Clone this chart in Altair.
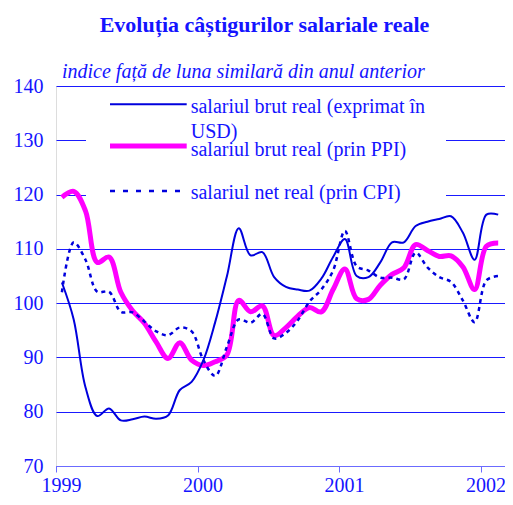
import altair as alt
import pandas as pd

# Monthly data, Jan 1999 .. Feb 2002
months = [f"{y}-{m:02d}" for y in (1999, 2000, 2001) for m in range(1, 13)] + ["2002-01", "2002-02"]

usd = [103.8, 97.0, 84.5, 79.2, 80.6, 78.4, 78.6, 79.1, 78.7, 79.3, 84.0, 85.5,
       89.5, 96.5, 105.0, 113.8, 108.8, 109.4, 104.8, 103.0, 102.5, 102.3, 104.5, 108.5,
       111.8, 105.0, 104.8, 107.5, 111.2, 111.2, 114.2, 115.0, 115.5, 116.0, 113.0, 108.0,
       116.3, 116.3]
ppi = [119.5, 120.6, 117.0, 107.5, 108.5, 102.0, 98.6, 96.3, 92.8, 89.8, 92.7, 89.5,
       88.5, 89.2, 90.5, 100.5, 98.4, 99.5, 94.0, 95.5, 97.6, 99.2, 98.4, 102.5,
       106.3, 100.8, 100.7, 103.3, 105.3, 106.5, 110.8, 109.7, 108.6, 108.7, 106.7, 102.5,
       110.5, 111.1]
cpi = [102.0, 111.2, 108.0, 102.1, 102.1, 98.4, 98.3, 96.6, 94.8, 94.1, 95.5, 94.8,
       89.5, 86.6, 92.0, 97.0, 96.4, 98.0, 93.5, 94.5, 96.8, 100.3, 102.5, 106.0,
       113.3, 106.8, 106.0, 104.7, 104.7, 104.4, 109.3, 106.6, 104.8, 103.9, 100.5, 96.5,
       104.2, 105.0]

series_names = ["salariul brut real (exprimat în USD)",
                "salariul brut real (prin PPI)",
                "salariul net real (prin CPI)"]
legend_lines = ["salariul brut real (exprimat în", "USD)",
                "salariul brut real (prin PPI)", "salariul net real (prin CPI)"]
title_text = "Evoluția câștigurilor salariale reale"
subtitle_text = "indice față de luna similară din anul anterior"
year_ticks = [1999, 2000, 2001, 2002]
y_ticks = [70, 80, 90, 100, 110, 120, 130, 140]

FONT = "Liberation Serif"
TXT = "#1414ff"
BLUE = "#0000dd"
MAG = "#ff00ff"

def yearfrac(m):
    y, mm = m.split("-")
    return int(y) + (int(mm) - 0.5) / 12.0

xs = [yearfrac(m) for m in months]
df = pd.DataFrame({"t": xs * 3,
                   "v": usd + ppi + cpi,
                   "s": [series_names[0]] * len(xs) + [series_names[1]] * len(xs) + [series_names[2]] * len(xs)})

W, H = 449, 380
YEAR_PX = 141.5
xscale = alt.Scale(domain=[1999, 1999 + W / YEAR_PX], nice=False, zero=False)
yscale = alt.Scale(domain=[70, 140], nice=False, zero=False)

xenc = alt.X("t:Q", scale=xscale,
             axis=alt.Axis(values=year_ticks, format="d", title=None, grid=False,
                           domainColor="#6b6bff", tickColor="#6b6bff", tickSize=6,
                           labelFont=FONT, labelFontSize=20, labelColor=TXT,
                           labelPadding=3, labelOffset=5, labelFlush=False, zindex=1))
yenc = alt.Y("v:Q", scale=yscale,
             axis=alt.Axis(values=y_ticks, title=None, grid=True, gridColor="#1a1aff",
                           gridWidth=1, domain=False, ticks=False, tickSize=0,
                           labelFont=FONT, labelFontSize=20, labelColor=TXT, labelPadding=13))

base = alt.Chart(df)

def line(name, color, width, dash=None):
    kw = dict(color=color, strokeWidth=width, interpolate="catmull-rom")
    if dash:
        kw["strokeDash"] = dash
    return base.transform_filter(alt.datum.s == name).mark_line(**kw).encode(x=xenc, y=yenc)

one = pd.DataFrame({"a": [0]})
box = alt.Chart(one).mark_rect(color="white").encode(
    x=alt.value(30), x2=alt.value(390), y=alt.value(3), y2=alt.value(125))

ppi_line = line(series_names[1], MAG, 5)
cpi_line = line(series_names[2], BLUE, 2.5, [4, 4])
usd_line = line(series_names[0], BLUE, 2)

LX1, LX2, TX = 54, 130.7, 134.7
leg_rule_usd = alt.Chart(one).mark_rule(color=BLUE, strokeWidth=2).encode(
    x=alt.value(LX1), x2=alt.value(LX2), y=alt.value(18.3))
leg_rule_ppi = alt.Chart(one).mark_rule(color=MAG, strokeWidth=5).encode(
    x=alt.value(LX1), x2=alt.value(LX2), y=alt.value(60))
leg_rule_cpi = alt.Chart(one).mark_rule(color=BLUE, strokeWidth=2.5, strokeDash=[5, 8]).encode(
    x=alt.value(LX1), x2=alt.value(LX2), y=alt.value(105))

def txt(s, x, y, **kw):
    opts = dict(align="left", baseline="alphabetic", font=FONT, fontSize=20, color=TXT)
    opts.update(kw)
    return alt.Chart(pd.DataFrame({"label": [s]})).mark_text(**opts).encode(
        x=alt.value(x), y=alt.value(y), text="label:N")

texts = [
    txt(legend_lines[0], TX, 27.3),
    txt(legend_lines[1], TX, 51.7),
    txt(legend_lines[2], TX, 70),
    txt(legend_lines[3], TX, 113.3),
    txt(title_text, 208.5, -54, align="center", fontWeight="bold", fontSize=22),
    txt(subtitle_text, 6, -8, fontStyle="italic"),
]

chart = alt.layer(box, ppi_line, cpi_line, usd_line,
                  leg_rule_usd, leg_rule_ppi, leg_rule_cpi, *texts).properties(
    width=W, height=H,
    autosize=alt.AutoSizeParams(type="none"),
    padding={"left": 48, "top": 78, "right": 0, "bottom": 31},
).configure_view(stroke=None).configure(background="white")

chart.save("out.html", embed_options={"renderer": "svg", "actions": False})
